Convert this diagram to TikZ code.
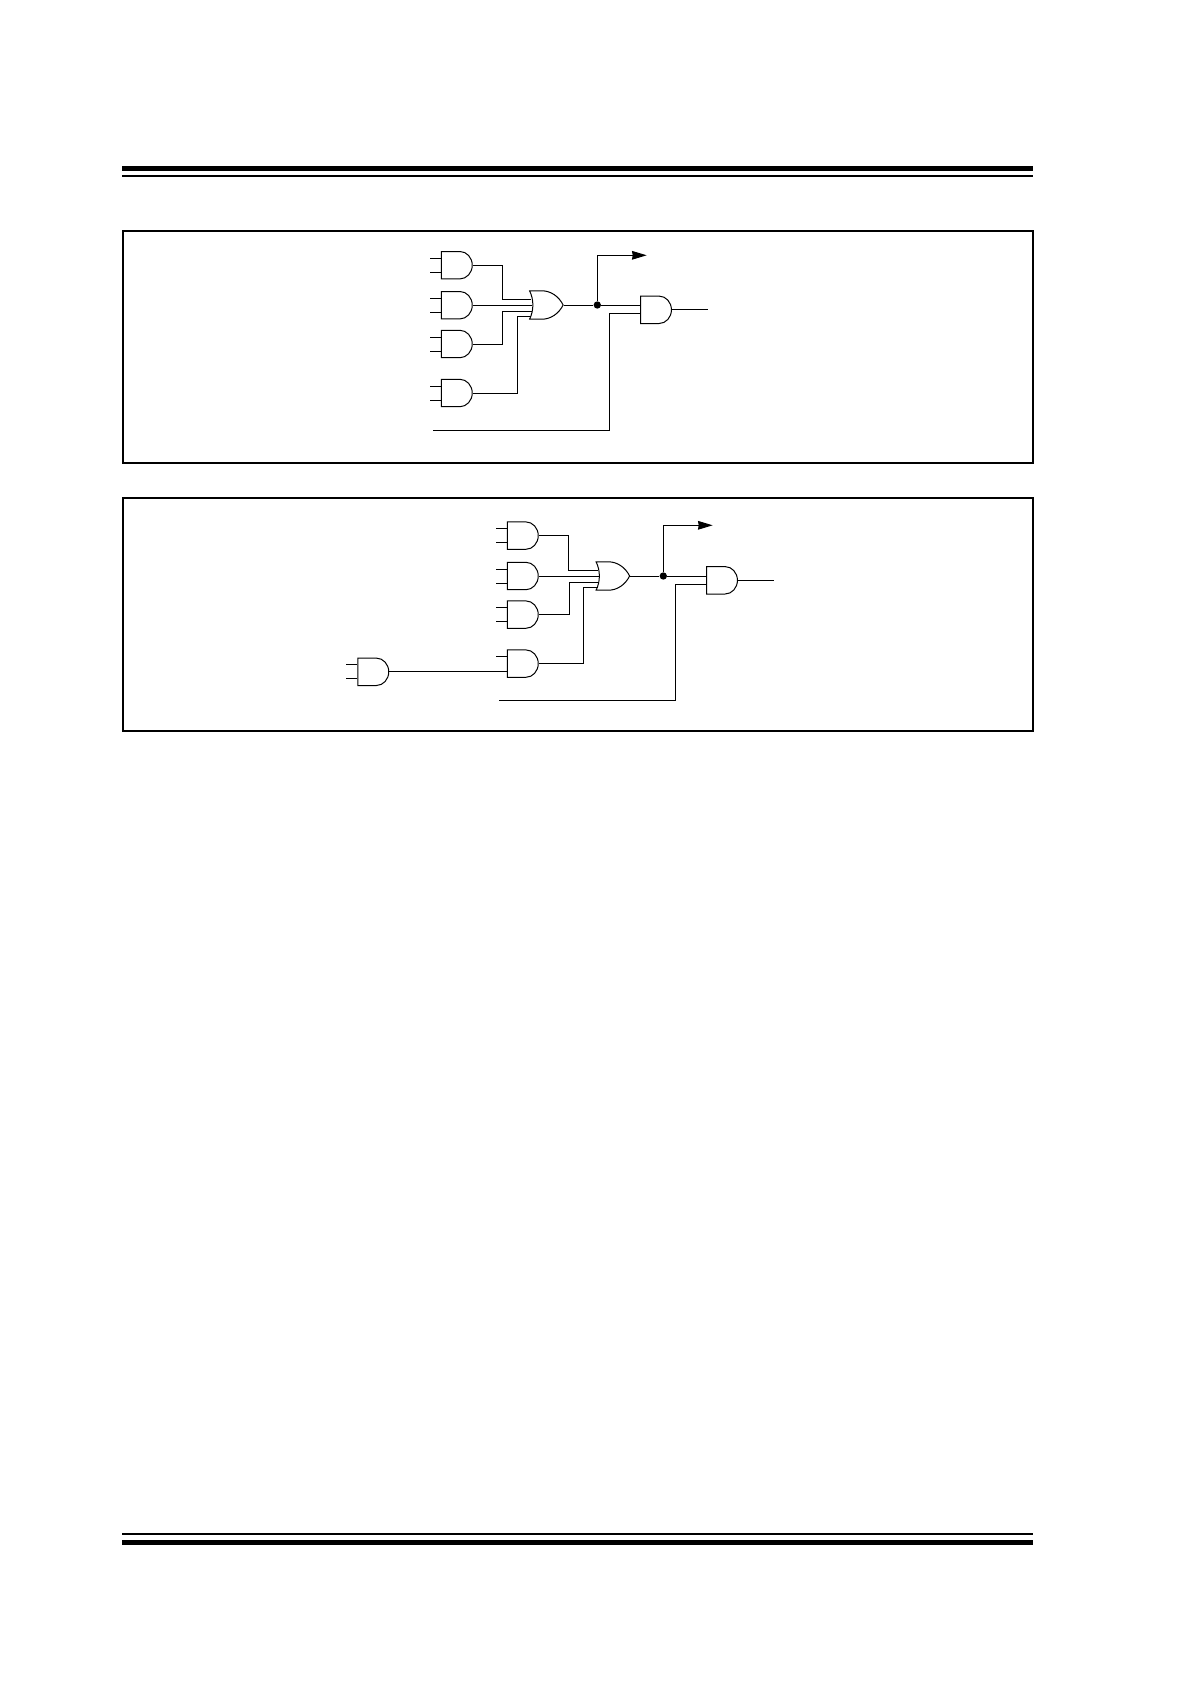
\documentclass[tikz,border=0pt]{standalone}
\usepackage{tikz}
\usetikzlibrary{arrows.meta, shapes.gates.logic.US}
\tikzset{
    x=0.75pt,
    y=-0.75pt,
    >={Stealth[length=11pt,width=6.5pt,inset=0.5pt]},
    wire/.style={line width=0.75pt},
    andg/.style={and gate US, draw, line width=0.75pt, inner sep=0pt, logic gate inputs=nn,
        logic gate input sep=6.85pt, xscale=0.9, transform shape},
    org/.style={or gate US, draw, line width=0.75pt, inner sep=0pt, logic gate inputs=nnnn,
        logic gate input sep=4.5pt, xscale=0.67, yscale=0.775, transform shape},
    junction/.style={circle, fill=black, inner sep=0pt, minimum size=5.5pt},
    frame/.style={line width=1.5pt}
}

\begin{document}
\begin{tikzpicture}
    \useasboundingbox (0,0) rectangle (1192,1685);
    % page rules
    \draw[line width=3.75pt] (122,168.5) -- (1033,168.5);
    \draw[line width=1.5pt] (122,176) -- (1033,176);
    \draw[line width=1.5pt] (122,1534) -- (1033,1534);
    \draw[line width=3.75pt] (122,1542.5) -- (1033,1542.5);
    % boxes
    \draw[frame] (123,231) rectangle (1033,463);
    \draw[frame] (123,497.5) rectangle (1033,731);

    % first circuit
    \node[andg] (a1) at (455.8,265.2) {};
    \node[andg] (a2) at (455.8,305.2) {};
    \node[andg] (a3) at (455.8,344) {};
    \node[andg] (a4) at (455.8,393) {};
    \node[org] (o1) at (543.9,305) {};
    \node[andg] (a5) at (655,309.8) {};
    \foreach \g in {a1,a2,a3,a4} {
        \draw[wire] ([yshift=5.25pt]\g.west) -- ++(-11,0);
        \draw[wire] ([yshift=-5.25pt]\g.west) -- ++(-11,0);
    }
    \coordinate (j1) at (502,299.3);
    \coordinate (j3) at (502,311.3);
    \coordinate (j4) at (517.3,316.7);
    \coordinate (j5) at (609.3,313.7);
    \coordinate (s1) at (433.3,430.3);
    \coordinate (t1) at (646.7,255.3);
    \node[junction] (d1) at (597.3,305) {};
    \draw[wire] (a1.output) -| (j1) -- (j1 -| o1.input 1);
    \draw[wire] (a2.output) -- (a2.output -| o1.input 2);
    \draw[wire] (a3.output) -| (j3) -- (j3 -| o1.input 3);
    \draw[wire] (a4.output) -| (j4) -- (j4 -| o1.input 4);
    \draw[wire] (o1.output) -- (d1) -- (d1 -| a5.west);
    \draw[wire, ->] (d1) |- (t1);
    \draw[wire] (s1) -| (j5) -- (j5 -| a5.west);
    \draw[wire] (a5.output) -- ++(36,0);

    % second circuit
    \node[andg] (b1) at (521.8,535.6) {};
    \node[andg] (b2) at (521.8,576) {};
    \node[andg] (b3) at (521.8,614.6) {};
    \node[andg] (b4) at (521.8,663.6) {};
    \node[andg] (b6) at (372.3,671.8) {};
    \node[org] (o2) at (610.4,576) {};
    \node[andg] (b5) at (721,580.3) {};
    \foreach \g in {b1,b2,b3,b6} {
        \draw[wire] ([yshift=5.25pt]\g.west) -- ++(-11,0);
        \draw[wire] ([yshift=-5.25pt]\g.west) -- ++(-11,0);
    }
    \draw[wire] ([yshift=5.25pt]b4.west) -- ++(-11,0);
    \coordinate (k1) at (568.7,570.3);
    \coordinate (k3) at (569.3,582);
    \coordinate (k4) at (583.3,587.3);
    \coordinate (k5) at (675.3,584.3);
    \coordinate (s2) at (499.3,700.8);
    \coordinate (t2) at (712.7,525.3);
    \node[junction] (d2) at (663.3,576) {};
    \draw[wire] (b1.output) -| (k1) -- (k1 -| o2.input 1);
    \draw[wire] (b2.output) -- (b2.output -| o2.input 2);
    \draw[wire] (b3.output) -| (k3) -- (k3 -| o2.input 3);
    \draw[wire] (b4.output) -| (k4) -- (k4 -| o2.input 4);
    \draw[wire] (b6.output) -- (b6.output -| b4.west);
    \draw[wire] (o2.output) -- (d2) -- (d2 -| b5.west);
    \draw[wire, ->] (d2) |- (t2);
    \draw[wire] (s2) -| (k5) -- (k5 -| b5.west);
    \draw[wire] (b5.output) -- ++(36,0);
\end{tikzpicture}
\end{document}
